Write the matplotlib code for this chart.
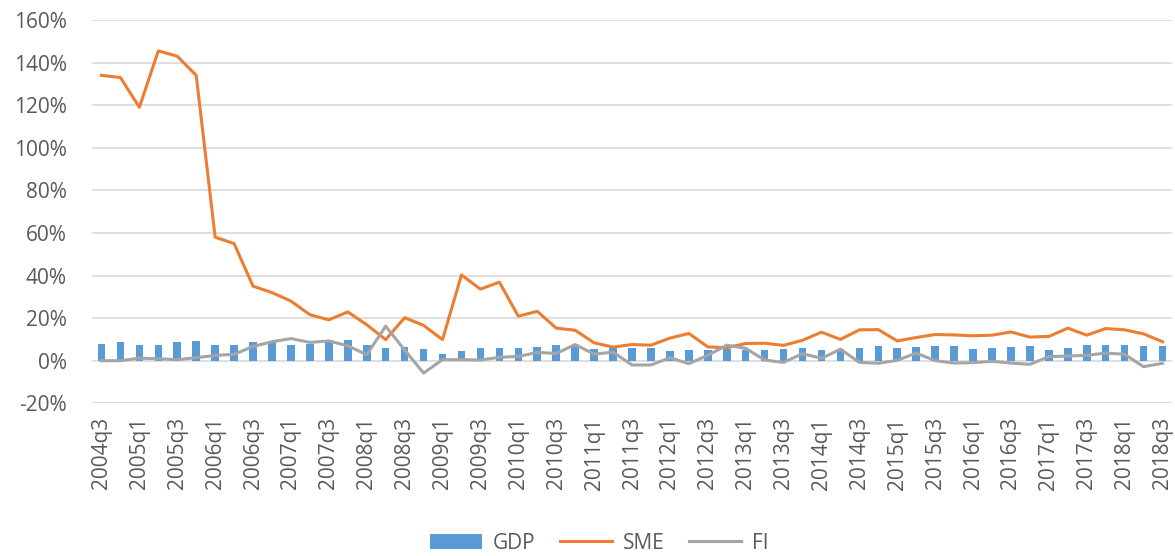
import matplotlib
matplotlib.use("Agg")
import matplotlib.pyplot as plt
import numpy as np

quarters = []
for y in range(2004, 2019):
    for q in range(1, 5):
        if (y == 2004 and q < 3) or (y == 2018 and q > 3):
            continue
        quarters.append("%dq%d" % (y, q))

gdp = [7.9, 8.6, 7.2, 7.6, 9.0, 9.3, 7.3, 7.3, 8.9, 8.6,
       7.6, 7.8, 9.5, 9.5, 7.5, 5.8, 6.4, 5.6, 3.1, 4.5,
       5.9, 6.1, 5.8, 6.4, 7.2, 7.2, 5.6, 5.8, 5.9, 6.1,
       4.7, 4.8, 5.1, 5.6, 4.8, 4.8, 5.4, 5.9, 5.1, 5.4,
       5.9, 6.8, 6.1, 6.4, 6.8, 7.0, 5.6, 5.8, 6.5, 6.7,
       5.1, 6.2, 7.5, 7.6, 7.5, 6.7, 6.8]
sme = [134.0, 133.0, 119.0, 145.5, 143.0, 134.0, 58.0, 55.0, 35.0, 32.0,
       28.0, 21.6, 19.2, 22.9, 16.9, 9.9, 20.2, 16.6, 9.9, 40.3,
       33.6, 36.9, 20.9, 23.2, 15.3, 14.3, 8.4, 6.4, 7.6, 7.3,
       10.6, 12.8, 6.5, 6.1, 8.1, 8.2, 7.2, 9.6, 13.4, 10.0,
       14.5, 14.6, 9.3, 10.9, 12.3, 12.1, 11.7, 12.0, 13.5, 11.1,
       11.4, 15.3, 12.0, 15.1, 14.5, 12.6, 8.9]
fi = [0.0, 0.0, 1.2, 0.9, 0.5, 1.4, 2.5, 3.0, 6.7, 8.9,
      10.4, 8.6, 9.3, 7.0, 2.8, 16.2, 5.0, -5.8, 0.5, 0.5,
      0.3, 1.6, 2.0, 3.9, 3.4, 7.6, 3.1, 4.0, -2.0, -2.0,
      1.4, -1.4, 2.5, 7.3, 5.8, 0.3, -0.8, 3.3, 1.1, 5.4,
      -0.8, -1.2, 0.2, 3.6, 0.0, -1.1, -0.9, -0.3, -1.1, -1.7,
      1.9, 2.2, 2.5, 3.6, 3.0, -2.8, -1.2]

plt.rcParams['font.family'] = ['Open Sans', 'DejaVu Sans']

fig = plt.figure(figsize=(11.75, 5.56), dpi=100)
ax = fig.add_axes([92 / 1175, 1 - 403.3 / 556, (1172 - 92) / 1175, (403.3 - 20) / 556])

x = np.arange(len(quarters))
b = ax.bar(x, gdp, width=0.4, color='#5B9BD5', label='GDP', zorder=2)
l1, = ax.plot(x, sme, color='#ED7D31', lw=2.2, label='SME', zorder=3)
l2, = ax.plot(x, fi, color='#A5A5A5', lw=2.2, label='FI', zorder=3)

ax.set_xlim(-0.5, len(quarters) - 0.5)
ax.set_ylim(-20, 160)
ax.set_yticks(np.arange(-20, 161, 20))
ax.set_yticklabels(['%d%%' % v for v in range(-20, 161, 20)])
ax.set_xticks(x[::2])
ax.set_xticklabels(quarters[::2], rotation=90)
ax.grid(axis='y', color='#D9D9D9', lw=1.2, zorder=0)
ax.set_axisbelow(True)
for s in ax.spines.values():
    s.set_visible(False)
ax.tick_params(length=0, labelsize=15, colors='#595959')
ax.tick_params(axis='y', pad=18)
ax.tick_params(axis='x', pad=10)

leg = fig.legend([b, l1, l2], ['GDP', 'SME', 'FI'], loc='center',
                 bbox_to_anchor=(0.51, 0.023), ncol=3, frameon=False,
                 fontsize=15, handlelength=2.5, columnspacing=1.2, handletextpad=0.5)
for t in leg.get_texts():
    t.set_color('#595959')

fig.savefig('out.png', dpi=100)
